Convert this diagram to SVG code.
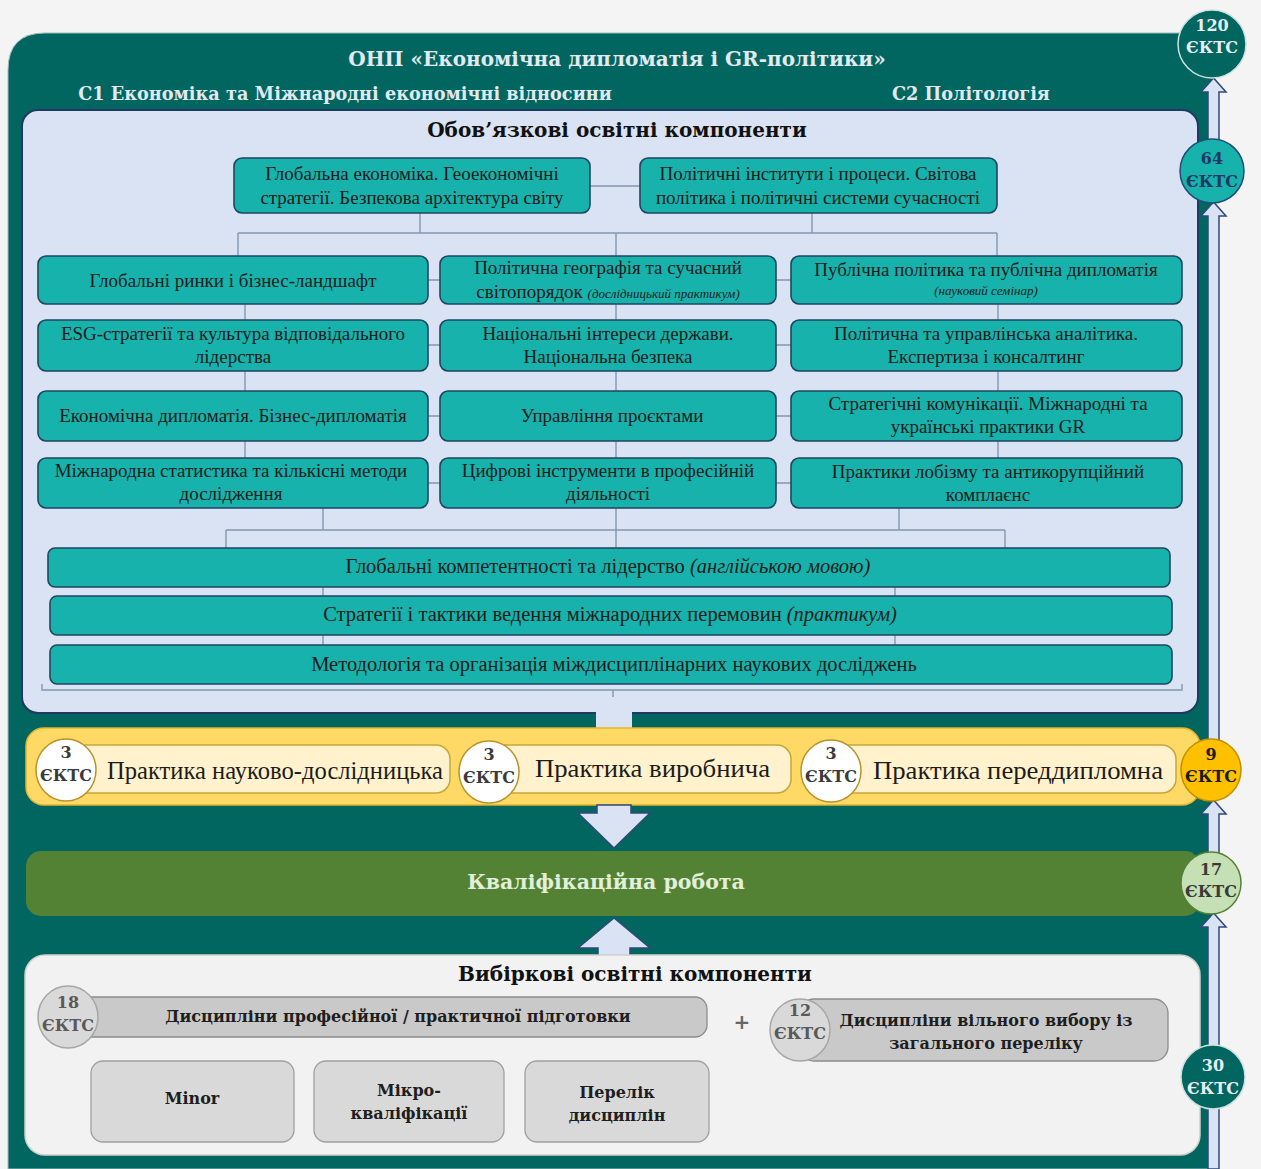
<svg xmlns="http://www.w3.org/2000/svg" width="1261" height="1169" viewBox="0 0 1261 1169">
<style>
.hd{font-family:"DejaVu Serif","Liberation Serif",serif;font-weight:bold;text-anchor:middle}
.bx{fill:#16b2ab;stroke:#1f4660;stroke-width:1.6}
.bt{font-family:"Liberation Serif","Times New Roman",serif;font-size:19px;fill:#1c1c1c;text-anchor:middle}
.wt{font-size:20.5px}
.it{font-style:italic;font-size:13px}
.ln{fill:none;stroke:#8496b0;stroke-width:1.4}
.pill{fill:#fff2cc;stroke:#c9a63a;stroke-width:1.5}
.pt{font-family:"Liberation Serif","Times New Roman",serif;font-size:25px;fill:#1c1c1c}
.ct{font-family:"DejaVu Serif","Liberation Serif",serif;font-weight:bold;font-size:16px;text-anchor:middle}
.gb{fill:#c9c9c9;stroke:#8c8c8c;stroke-width:1.3}
.gs{fill:#d9d9d9;stroke:#a0a0a0;stroke-width:1.3}
.gt{font-family:"DejaVu Serif","Liberation Serif",serif;font-weight:bold;font-size:16px;fill:#1e1e1e;text-anchor:middle}
.ar{fill:#dae3f3;stroke:#2f4a7a;stroke-width:1.5}
</style>
<rect x="0" y="0" width="1261" height="1169" fill="#f4f4f4"/>
<g id="main-panel">
<path d="M8,70 Q8,33 45,33 H1215 V1169 H8 Z" fill="#00665f" stroke="#9fbcbc" stroke-width="1"/>
<text class="hd" x="617" y="66" font-size="20" fill="#e2e9f1">ОНП «Економічна дипломатія і GR-політики»</text>
<text class="hd" x="345" y="100" font-size="17.7" fill="#e2e9f1">С1 Економіка та Міжнародні економічні відносини</text>
<text class="hd" x="971" y="100" font-size="17.7" fill="#e2e9f1">С2 Політологія</text>
</g>
<g id="mandatory-panel">
<rect x="22" y="110" width="1176" height="603" rx="16" fill="#dae3f3" stroke="#203864" stroke-width="2"/>
<text class="hd" x="617" y="137" font-size="20" fill="#111">Обов’язкові освітні компоненти</text>
</g>
<g id="connectors">
<path class="ln" d="M590,186 H640"/>
<path class="ln" d="M420,213 V233 M812,213 V233 M238,233 H997 M238,233 V256 M616,233 V256 M997,233 V256"/>
<path class="ln" d="M428,280 H440 M776,280 H791 M428,345 H440 M776,345 H791 M428,416 H440 M776,416 H791 M428,483 H440 M776,483 H791"/>
<path class="ln" d="M245,304 V320 M245,371 V391 M245,441 V458 M616,304 V320 M616,371 V391 M616,441 V458 M998,304 V320 M998,371 V391 M998,441 V458"/>
<path class="ln" d="M323,508 V530 M616,508 V548 M899,508 V530 M226,530 H1005 M226,530 V548 M1005,530 V548"/>
<path class="ln" d="M323,587 V596 M895,587 V596 M323,635 V645 M895,635 V645"/>
<path class="ln" d="M42,684 V690 H1182 V684 M613,690 V697"/>
<path fill="none" stroke="#a0a0a0" stroke-width="1.3" d="M90,1040 V1046 H707 V1040 M398,1046 V1053"/>
</g>
<g id="n-global-economy"><rect class="bx" x="234" y="158" width="356" height="55" rx="8"/><text class="bt" x="412" y="180">Глобальна економіка. Геоекономічні</text><text class="bt" x="412" y="204">стратегії. Безпекова архітектура світу</text></g>
<g id="n-political-institutions"><rect class="bx" x="640" y="158" width="357" height="55" rx="8"/><text class="bt" x="818" y="180">Політичні інститути і процеси. Світова</text><text class="bt" x="818" y="204">політика і політичні системи сучасності</text></g>
<g id="n-global-markets"><rect class="bx" x="38" y="256" width="390" height="48" rx="8"/><text class="bt" x="233" y="287">Глобальні ринки і бізнес-ландшафт</text></g>
<g id="n-political-geography"><rect class="bx" x="440" y="256" width="336" height="48" rx="8"/><text class="bt" x="608" y="274">Політична географія та сучасний</text><text class="bt" x="608" y="298">світопорядок <tspan class="it">(дослідницький практикум)</tspan></text></g>
<g id="n-public-policy"><rect class="bx" x="791" y="256" width="391" height="48" rx="8"/><text class="bt" x="986" y="276">Публічна політика та публічна дипломатія</text><text class="bt it" x="986" y="295" font-size="12">(науковий семінар)</text></g>
<g id="n-esg"><rect class="bx" x="38" y="320" width="390" height="51" rx="8"/><text class="bt" x="233" y="340">ESG-стратегії та культура відповідального</text><text class="bt" x="233" y="363">лідерства</text></g>
<g id="n-national-interests"><rect class="bx" x="440" y="320" width="336" height="51" rx="8"/><text class="bt" x="608" y="340">Національні інтереси держави.</text><text class="bt" x="608" y="363">Національна безпека</text></g>
<g id="n-political-analytics"><rect class="bx" x="791" y="320" width="391" height="51" rx="8"/><text class="bt" x="986" y="340">Політична та управлінська аналітика.</text><text class="bt" x="986" y="363">Експертиза і консалтинг</text></g>
<g id="n-economic-diplomacy"><rect class="bx" x="38" y="391" width="390" height="50" rx="8"/><text class="bt" x="233" y="422">Економічна дипломатія. Бізнес-дипломатія</text></g>
<g id="n-project-management"><rect class="bx" x="440" y="391" width="336" height="50" rx="8"/><text class="bt" x="612" y="422">Управління проєктами</text></g>
<g id="n-strategic-communications"><rect class="bx" x="791" y="391" width="391" height="50" rx="8"/><text class="bt" x="988" y="410">Стратегічні комунікації. Міжнародні та</text><text class="bt" x="988" y="433">українські практики GR</text></g>
<g id="n-statistics"><rect class="bx" x="38" y="458" width="390" height="50" rx="8"/><text class="bt" x="231" y="477">Міжнародна статистика та кількісні методи</text><text class="bt" x="231" y="500">дослідження</text></g>
<g id="n-digital-tools"><rect class="bx" x="440" y="458" width="336" height="50" rx="8"/><text class="bt" x="608" y="477">Цифрові інструменти в професійній</text><text class="bt" x="608" y="500">діяльності</text></g>
<g id="n-lobbying"><rect class="bx" x="791" y="458" width="391" height="50" rx="8"/><text class="bt" x="988" y="478">Практики лобізму та антикорупційний</text><text class="bt" x="988" y="501">комплаєнс</text></g>
<g id="n-global-competences"><rect class="bx" x="48" y="548" width="1122" height="39" rx="7"/><text class="bt wt" x="608" y="573">Глобальні компетентності та лідерство <tspan font-style="italic">(англійською мовою)</tspan></text></g>
<g id="n-negotiations"><rect class="bx" x="50" y="596" width="1122" height="39" rx="7"/><text class="bt wt" x="610" y="621">Стратегії і тактики ведення міжнародних перемовин <tspan font-style="italic">(практикум)</tspan></text></g>
<g id="n-methodology"><rect class="bx" x="50" y="645" width="1122" height="39" rx="7"/><text class="bt wt" x="614" y="671">Методологія та організація міждисциплінарних наукових досліджень</text></g>
<g id="practice-band">
<rect x="596" y="711" width="36" height="19" fill="#dae3f3"/>
<rect x="26" y="728" width="1174" height="77" rx="18" fill="#ffd966" stroke="#e3b52a" stroke-width="1.5"/>
</g>
<g id="n-practice-research"><rect class="pill" x="66" y="745" width="384" height="48" rx="14"/><ellipse cx="66" cy="770" rx="30" ry="31" fill="#fff" stroke="#b8922a" stroke-width="1.5"/><text class="ct" x="66" y="758" fill="#3a3a3a">3</text><text class="ct" x="66" y="781" fill="#3a3a3a">ЄКТС</text><text class="pt" x="107" y="779" textLength="336" lengthAdjust="spacingAndGlyphs">Практика науково-дослідницька</text></g>
<g id="n-practice-industrial"><rect class="pill" x="489" y="745" width="302" height="48" rx="14"/><ellipse cx="489" cy="772" rx="30" ry="31" fill="#fff" stroke="#b8922a" stroke-width="1.5"/><text class="ct" x="489" y="760" fill="#3a3a3a">3</text><text class="ct" x="489" y="783" fill="#3a3a3a">ЄКТС</text><text class="pt" x="535" y="777" textLength="235" lengthAdjust="spacingAndGlyphs">Практика виробнича</text></g>
<g id="n-practice-prediploma"><rect class="pill" x="831" y="745" width="345" height="48" rx="14"/><ellipse cx="831" cy="771" rx="30" ry="31" fill="#fff" stroke="#b8922a" stroke-width="1.5"/><text class="ct" x="831" y="759" fill="#3a3a3a">3</text><text class="ct" x="831" y="782" fill="#3a3a3a">ЄКТС</text><text class="pt" x="873" y="779" textLength="290" lengthAdjust="spacingAndGlyphs">Практика переддипломна</text></g>
<g id="arrows-middle">
<path class="ar" stroke="none" d="M597,805 H631 V813 H650 L614,848 L578,813 H597 Z"/>
<path class="ar" stroke="none" d="M598,958 H630 V948 H650 L614,918 L578,948 H598 Z"/>
</g>
<g id="n-qualification-work">
<rect x="26" y="851" width="1174" height="65" rx="15" fill="#548235"/>
<text class="hd" x="606" y="889" font-size="20.5" fill="#e2efda">Кваліфікаційна робота</text>
</g>
<g id="elective-panel">
<rect x="25" y="955" width="1175" height="200" rx="20" fill="#f2f2f2" stroke="#cfcfcf" stroke-width="1.5"/>
<text class="hd" x="635" y="981" font-size="20" fill="#111">Вибіркові освітні компоненти</text>
<text class="hd" x="742" y="1029" font-size="20" fill="#666">+</text>
</g>
<g id="n-professional-disciplines"><rect class="gb" x="68" y="997" width="639" height="40" rx="12"/><ellipse cx="68" cy="1017" rx="30" ry="31" fill="#d9d9d9" stroke="#a6a6a6" stroke-width="1.5"/><text class="ct" x="68" y="1008" fill="#595959">18</text><text class="ct" x="68" y="1031" fill="#595959">ЄКТС</text><text class="gt" x="398" y="1022">Дисципліни професійної / практичної підготовки</text></g>
<g id="n-free-choice"><rect class="gb" x="800" y="999" width="368" height="62" rx="14"/><ellipse cx="800" cy="1030" rx="30" ry="31" fill="#d9d9d9" stroke="#a6a6a6" stroke-width="1.5"/><text class="ct" x="800" y="1016" fill="#595959">12</text><text class="ct" x="800" y="1039" fill="#595959">ЄКТС</text><text class="gt" x="986" y="1026">Дисципліни вільного вибору із</text><text class="gt" x="986" y="1049">загального переліку</text></g>
<g id="n-minor"><rect class="gs" x="91" y="1061" width="203" height="81" rx="12"/><text class="gt" x="192" y="1104">Minor</text></g>
<g id="n-micro"><rect class="gs" x="314" y="1061" width="190" height="81" rx="12"/><text class="gt" x="409" y="1096">Мікро-</text><text class="gt" x="409" y="1119">кваліфікації</text></g>
<g id="n-list"><rect class="gs" x="525" y="1061" width="184" height="81" rx="12"/><text class="gt" x="617" y="1098">Перелік</text><text class="gt" x="617" y="1121">дисциплін</text></g>
<g id="ects-arrows">
<path class="ar" d="M1208,1169 V1100 H1219 V1169 Z"/>
<path class="ar" d="M1208,1050 V927 H1201 L1213.5,913 L1226,927 H1219 V1050 Z"/>
<path class="ar" d="M1208,858 V814 H1201 L1213.5,800 L1226,814 H1219 V858 Z"/>
<path class="ar" d="M1208,745 V216 H1201 L1213.5,202 L1226,216 H1219 V745 Z"/>
<path class="ar" d="M1208,142 V92 H1201 L1213.5,78 L1226,92 H1219 V142 Z"/>
</g>
<g id="ects-120"><circle cx="1212" cy="44" r="34" fill="#00665f" stroke="#cfe0e0" stroke-width="1.5"/><text class="ct" x="1212" y="31" font-size="17" fill="#e6edf5">120</text><text class="ct" x="1212" y="53" font-size="17" fill="#e6edf5">ЄКТС</text></g>
<g id="ects-64"><circle cx="1212" cy="171" r="32" fill="#16b2ab" stroke="#1f4e79" stroke-width="1.5"/><text class="ct" x="1212" y="164" font-size="17" fill="#1f3864">64</text><text class="ct" x="1212" y="187" font-size="17" fill="#1f3864">ЄКТС</text></g>
<g id="ects-9"><ellipse cx="1211" cy="770" rx="30" ry="31" fill="#ffc000" stroke="#bf9000" stroke-width="1.5"/><text class="ct" x="1211" y="760" font-size="17" fill="#1c1c1c">9</text><text class="ct" x="1211" y="782" font-size="17" fill="#1c1c1c">ЄКТС</text></g>
<g id="ects-17"><ellipse cx="1211" cy="883" rx="30" ry="31" fill="#c5e0b4" stroke="#548235" stroke-width="1.5"/><text class="ct" x="1211" y="875" font-size="17" fill="#3a3a3a">17</text><text class="ct" x="1211" y="897" font-size="17" fill="#3a3a3a">ЄКТС</text></g>
<g id="ects-30"><circle cx="1213" cy="1077" r="32" fill="#00665f" stroke="#cfe0e0" stroke-width="1.5"/><text class="ct" x="1213" y="1071" font-size="17" fill="#e6edf5">30</text><text class="ct" x="1213" y="1094" font-size="17" fill="#e6edf5">ЄКТС</text></g>
</svg>
